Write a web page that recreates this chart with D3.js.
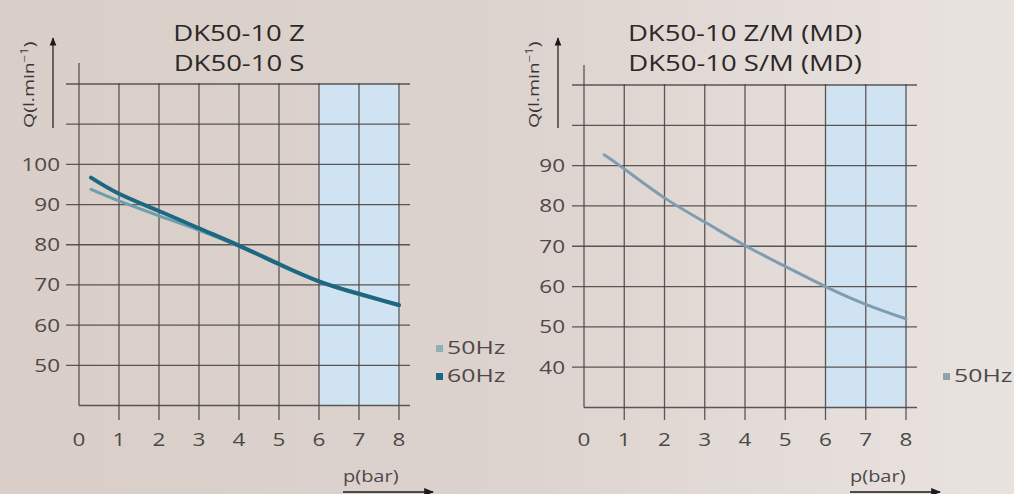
<!DOCTYPE html>
<html><head><meta charset="utf-8">
<script src="https://cdn.jsdelivr.net/npm/d3@7"></script>
<style>body{margin:0;overflow:hidden;background:#ded4cf}svg{display:block}</style>
</head><body>
<svg id="c" width="1014" height="494"></svg>
<script>
// ---- data ----
const pressureTicks = [0,1,2,3,4,5,6,7,8];
const leftTitle = ["DK50-10 Z", "DK50-10 S"];
const rightTitle = ["DK50-10 Z/M (MD)", "DK50-10 S/M (MD)"];
const leftYTicks = [50,60,70,80,90,100];
const rightYTicks = [40,50,60,70,80,90];
const left50P = [0.3,1,2,3,4,5,6,7,8];
const left50Q = [93.8,90.9,87.2,83.6,79.6,75.0,70.8,67.6,64.8];
const left60P = [0.3,1,2,3,4,5,6,7,8];
const left60Q = [96.7,92.7,88.4,84.1,79.8,75.2,70.9,67.8,65.0];
const right50P = [0.5,1,2,3,4,5,6,7,8];
const right50Q = [92.7,89.2,82.0,76.0,70.2,65.0,60.0,55.6,52.0];
const leftLegend = ["50Hz","60Hz"];
const rightLegend = ["50Hz"];
const shadeRange = [6,8];

const svg = d3.select("#c");
const defs = svg.append("defs");
const bg = defs.append("linearGradient").attr("id","bg").attr("x1","0").attr("x2","1").attr("y1","0").attr("y2","0");
bg.append("stop").attr("offset","0").attr("stop-color","#d9cec8");
bg.append("stop").attr("offset","0.5").attr("stop-color","#ddd3ce");
bg.append("stop").attr("offset","1").attr("stop-color","#e9e3e0");
svg.append("rect").attr("width",1014).attr("height",494).attr("fill","url(#bg)");
const mk = defs.append("marker").attr("id","arr").attr("viewBox","0 0 10 10").attr("refX",9).attr("refY",5)
  .attr("markerWidth",7).attr("markerHeight",7).attr("orient","auto-start-reverse");
mk.append("path").attr("d","M0,1 L10,5 L0,9 Z").attr("fill","#1c1a1a");

const SX = 1.25;
function txt(g, x, y, s, size, anchor, fill, sx, weight) {
  return g.append("text").attr("transform", `translate(${x},${y}) scale(${sx||SX},1)`)
    .attr("font-family","'Open Sans', 'Noto Sans', sans-serif").attr("font-size",size)
    .attr("font-weight", weight || 400)
    .attr("text-anchor",anchor).attr("fill",fill).text(s);
}

function panel(cfg) {
  const g = svg.append("g");
  const x = d3.scaleLinear().domain([0,8]).range([cfg.x0, cfg.x1]);
  const y = d3.scaleLinear().domain([cfg.yMin, cfg.yMax]).range([cfg.yBot, cfg.yTop]);
  // shaded region
  g.append("rect").attr("x", x(shadeRange[0])).attr("y", cfg.yTop)
    .attr("width", x(shadeRange[1]) - x(shadeRange[0]) + 1).attr("height", cfg.yBot - cfg.yTop)
    .attr("fill", "#cfe3f3");
  const gridC = "#4e4747";
  // horizontal grid
  const hVals = d3.range(cfg.yMin + 10, cfg.yMax + 1, 10);
  g.selectAll(".h").data(hVals).join("line")
    .attr("x1", cfg.gl).attr("x2", cfg.gr).attr("y1", d => y(d)).attr("y2", d => y(d))
    .attr("stroke", gridC).attr("stroke-width", 1.3).attr("opacity", 0.9);
  // bottom axis line
  g.append("line").attr("x1", x(0)).attr("x2", cfg.gr).attr("y1", y(cfg.yMin)).attr("y2", y(cfg.yMin))
    .attr("stroke", gridC).attr("stroke-width", 1.3).attr("opacity", 0.9);
  // vertical grid
  g.selectAll(".v").data(pressureTicks.filter(d => d > 0)).join("line")
    .attr("x1", d => x(d)).attr("x2", d => x(d)).attr("y1", cfg.yTop - 1).attr("y2", cfg.tickBot)
    .attr("stroke", gridC).attr("stroke-width", 1.3).attr("opacity", 0.9);
  g.append("line").attr("x1", x(0)).attr("x2", x(0)).attr("y1", cfg.axisTop).attr("y2", y(cfg.yMin))
    .attr("stroke", gridC).attr("stroke-width", 1.3).attr("opacity", 0.9);
  // curves
  const line = d3.line().x(d => x(d[0])).y(d => y(d[1])).curve(d3.curveNatural);
  cfg.series.forEach(s => {
    g.append("path").attr("d", line(d3.zip(s.p, s.q))).attr("fill","none")
      .attr("stroke", s.color).attr("stroke-width", s.w).attr("stroke-linecap","round");
  });
  // tick labels
  pressureTicks.forEach(d => txt(g, x(d), 446, d, 18, "middle", "#4d4848"));
  cfg.yTicks.forEach(d => txt(g, cfg.x0 - 19, y(d) + 6.5, d, 18, "end", "#4d4848"));
  // titles
  txt(g, (cfg.x0 + cfg.x1) / 2, 41, cfg.title[0], 22, "middle", "#2c2828", SX, 500);
  txt(g, (cfg.x0 + cfg.x1) / 2, 71, cfg.title[1], 22, "middle", "#2c2828", SX, 500);
  // y label
  const yl = g.append("text").attr("transform", `translate(${cfg.x0 - 45},128) rotate(-90) scale(1.3,1)`)
    .attr("font-family","'Open Sans', sans-serif").attr("font-size",15).attr("fill","#3a3535");
  yl.append("tspan").text("Q(l.min");
  yl.append("tspan").attr("font-size",10).attr("dy",-6).text("−1");
  yl.append("tspan").attr("dy",6).text(")");
  g.append("line").attr("x1", cfg.x0 - 26).attr("x2", cfg.x0 - 26).attr("y1", 128).attr("y2", 38)
    .attr("stroke","#1c1a1a").attr("stroke-width",1.2).attr("marker-end","url(#arr)");
  // x label
  txt(g, cfg.x1 - 56, 482, "p(bar)", 16, "start", "#4d4848");
  g.append("line").attr("x1", cfg.x1 - 56).attr("x2", cfg.x1 + 34).attr("y1", 492).attr("y2", 492)
    .attr("stroke","#1c1a1a").attr("stroke-width",1.4).attr("marker-end","url(#arr)");
  // legend
  cfg.legend.forEach((l, i) => {
    const ly = cfg.legY + i * 28;
    g.append("rect").attr("x", cfg.legX).attr("y", ly - 8).attr("width", 7).attr("height", 7).attr("fill", cfg.series[i].lc);
    txt(g, cfg.legX + 11, ly + 1, l, 18, "start", "#4d4848", 1.38);
  });
}

panel({x0:79, x1:399, yMin:40, yMax:120, yTop:84, yBot:405.5, gl:66, gr:410, axisTop:63, tickBot:420,
  yTicks: leftYTicks, title: leftTitle, legend: leftLegend, legX: 436, legY: 353,
  series: [
    {p: left50P, q: left50Q, color:"#6c9eab", lc:"#8fb0b4", w:3},
    {p: left60P, q: left60Q, color:"#1d6880", lc:"#1a6680", w:4}
  ]});
panel({x0:584, x1:906, yMin:30, yMax:110, yTop:85, yBot:407.5, gl:572, gr:917, axisTop:65, tickBot:420,
  yTicks: rightYTicks, title: rightTitle, legend: rightLegend, legX: 943, legY: 381,
  series: [
    {p: right50P, q: right50Q, color:"#7f9db0", lc:"#8aa5ac", w:3}
  ]});
</script>
</body></html>
